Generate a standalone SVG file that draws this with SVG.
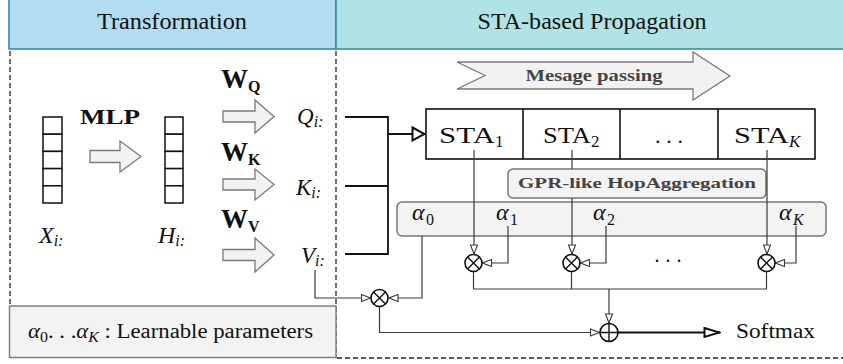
<svg xmlns="http://www.w3.org/2000/svg" width="843" height="364" viewBox="0 0 843 364" font-family="'Liberation Serif', 'Times New Roman', serif">
<defs>
<style>
text{font-family:'Liberation Serif','Times New Roman',serif;fill:#111}
.hdr{font-size:23px}
.b{font-weight:bold}
.it{font-style:italic}
.gray{fill:#444}
.thin{fill:none;stroke:#3a3a3a;stroke-width:1.2}
.thick{fill:none;stroke:#111;stroke-width:1.8}
.dash{fill:none;stroke:#222;stroke-width:1.3;stroke-dasharray:5 3}
.cell{fill:#fff;stroke:#111;stroke-width:1.5}
.fat{fill:#f2f2f2;stroke:#7a7a7a;stroke-width:1.3}
.rbox{fill:#f3f3f3;stroke:#777;stroke-width:1.5}
.op{fill:#fff;stroke:#111;stroke-width:1.6}
.opl{stroke:#111;stroke-width:1.4}
</style>
<marker id="tri" markerUnits="userSpaceOnUse" viewBox="0 0 11 9" refX="10.5" refY="4.5" markerWidth="11" markerHeight="9" orient="auto">
<path d="M1,1 L10,4.5 L1,8 Z" fill="#fff" stroke="#3a3a3a" stroke-width="1.1"/>
</marker>
<marker id="triBig" markerUnits="userSpaceOnUse" viewBox="0 0 15 16" refX="14" refY="8" markerWidth="15" markerHeight="16" orient="auto">
<path d="M1.5,1.5 L13.5,8 L1.5,14.5 Z" fill="#fff" stroke="#111" stroke-width="2"/>
</marker>
<marker id="triOut" markerUnits="userSpaceOnUse" viewBox="0 0 18 12" refX="17" refY="6" markerWidth="18" markerHeight="12" orient="auto">
<path d="M1.5,1.5 L16.5,6 L1.5,10.5 Z" fill="#fff" stroke="#111" stroke-width="2"/>
</marker>
</defs>

<!-- section headers -->
<g id="header-transformation">
<rect x="9" y="-2" width="327" height="51" fill="#b2dcef" stroke="#2f7fb0" stroke-width="1.5"/>
<text class="hdr" x="172" y="29" text-anchor="middle" textLength="150" lengthAdjust="spacingAndGlyphs">Transformation</text>
</g>
<g id="header-propagation">
<rect x="336" y="-2" width="510" height="51" fill="#b0e3e5" stroke="#2a8c90" stroke-width="1.5"/>
<text class="hdr" x="592" y="29" text-anchor="middle" textLength="229" lengthAdjust="spacingAndGlyphs">STA-based Propagation</text>
</g>

<!-- dashed region borders -->
<g id="regions">
<line class="dash" x1="10" y1="51" x2="10" y2="306"/>
<line class="dash" x1="336" y1="51" x2="336" y2="358"/>
<line class="dash" x1="337" y1="358" x2="843" y2="358"/>
</g>

<g id="legend">
<rect x="9.5" y="306" width="326.5" height="51.5" fill="#f3f3f3" stroke="#808080" stroke-width="1.5"/>
<text x="28" y="338" font-size="20" fill="#222" textLength="285" lengthAdjust="spacingAndGlyphs"><tspan class="it">α</tspan><tspan font-size="14" dy="4">0</tspan><tspan dy="-4">. . .</tspan><tspan class="it">α</tspan><tspan class="it" font-size="14" dy="4">K</tspan><tspan dy="-4"> : Learnable parameters</tspan></text>
</g>

<!-- input and hidden vectors -->
<g id="x-vector">
<rect class="cell" x="43" y="117" width="19" height="17.2"/>
<rect class="cell" x="43" y="134.2" width="19" height="17.2"/>
<rect class="cell" x="43" y="151.4" width="19" height="17.2"/>
<rect class="cell" x="43" y="168.6" width="19" height="17.2"/>
<rect class="cell" x="43" y="185.8" width="19" height="17.2"/>
<text class="it" x="39" y="243" font-size="24">X<tspan font-size="16" dy="3">i:</tspan></text>
</g>
<g id="h-vector">
<rect class="cell" x="165" y="117" width="18" height="17.2"/>
<rect class="cell" x="165" y="134.2" width="18" height="17.2"/>
<rect class="cell" x="165" y="151.4" width="18" height="17.2"/>
<rect class="cell" x="165" y="168.6" width="18" height="17.2"/>
<rect class="cell" x="165" y="185.8" width="18" height="17.2"/>
<text class="it" x="158" y="243" font-size="24">H<tspan font-size="16" dy="3">i:</tspan></text>
</g>

<g id="mlp">
<text class="b" x="80" y="124" font-size="22" textLength="60" lengthAdjust="spacingAndGlyphs">MLP</text>
<polygon class="fat" points="90,150.5 120,150.5 120,141 141,156.5 120,172 120,162.5 90,162.5"/>
</g>

<g id="w-q">
<text class="b" x="221" y="88" font-size="27">W<tspan font-size="16" dy="4">Q</tspan></text>
<polygon class="fat" points="223,111 255,111 255,100 274,116.5 255,133 255,122 223,122"/>
<text class="it" x="297" y="124" font-size="23">Q<tspan font-size="16" dy="3">i:</tspan></text>
</g>
<g id="w-k">
<text class="b" x="221" y="161" font-size="27">W<tspan font-size="16" dy="4">K</tspan></text>
<polygon class="fat" points="223,179 255,179 255,169 274,184.5 255,200 255,190 223,190"/>
<text class="it" x="296" y="195" font-size="23">K<tspan font-size="16" dy="3">i:</tspan></text>
</g>
<g id="w-v">
<text class="b" x="221" y="228" font-size="27">W<tspan font-size="16" dy="4">V</tspan></text>
<polygon class="fat" points="223,249.5 255,249.5 255,238 274,255 255,272 255,260.5 223,260.5"/>
<text class="it" x="301" y="263" font-size="23">V<tspan font-size="16" dy="3">i:</tspan></text>
</g>

<g id="message-passing">
<polygon class="fat" points="457,62 693,62 693,52 730,76 693,100 693,89 457,89 485,75.5"/>
<text class="b gray" x="594" y="81" font-size="16" text-anchor="middle" textLength="137" lengthAdjust="spacingAndGlyphs">Mesage passing</text>
</g>

<g id="sta-blocks">
<rect x="426" y="109" width="389" height="50" fill="#fff" stroke="#111" stroke-width="1.6"/>
<line x1="523" y1="109" x2="523" y2="159" stroke="#111" stroke-width="1.6"/>
<line x1="620" y1="109" x2="620" y2="159" stroke="#111" stroke-width="1.6"/>
<line x1="718" y1="109" x2="718" y2="159" stroke="#111" stroke-width="1.6"/>
<text x="439" y="143" font-size="24" textLength="56" lengthAdjust="spacingAndGlyphs">STA</text>
<text x="495" y="147" font-size="17">1</text>
<text x="543" y="143" font-size="24" textLength="48" lengthAdjust="spacingAndGlyphs">STA</text>
<text x="591" y="147" font-size="17">2</text>
<text x="669" y="143" font-size="22" text-anchor="middle" textLength="28" lengthAdjust="spacing">. . .</text>
<text x="734" y="143" font-size="24" textLength="55" lengthAdjust="spacingAndGlyphs">STA</text>
<text class="it" x="789" y="147" font-size="17">K</text>
</g>

<g id="hop-aggregation">
<rect class="rbox" x="508" y="169" width="258" height="29" rx="5"/>
<text class="b gray" x="637" y="188" font-size="15" text-anchor="middle" textLength="238" lengthAdjust="spacingAndGlyphs">GPR-like HopAggregation</text>
</g>

<g id="alphas">
<rect class="rbox" x="397" y="202" width="429" height="34" rx="5"/>
<text class="it" x="412" y="220" font-size="24">α</text><text x="426" y="225" font-size="16">0</text>
<text class="it" x="496" y="220" font-size="24">α</text><text x="510" y="225" font-size="16">1</text>
<text class="it" x="593" y="220" font-size="24">α</text><text x="607" y="225" font-size="16">2</text>
<text class="it" x="779" y="220" font-size="24">α</text><text class="it" x="793" y="225" font-size="16">K</text>
</g>

<!-- connectors -->
<g id="connectors">
<path class="thick" d="M345,117 H388 M345,186 H388 M345,254 H388 M388,116 V255"/>
<path class="thick" d="M388,134 H425" marker-end="url(#triBig)"/>

<path class="thin" d="M474,150 V254.5" marker-end="url(#tri)"/>
<path class="thin" d="M572,150 V169 M572,198 V254.5" marker-end="url(#tri)"/>
<path class="thin" d="M767,150 V254.5" marker-end="url(#tri)"/>

<path class="thin" d="M508,226 V263 H482" marker-end="url(#tri)"/>
<path class="thin" d="M606,226 V263 H580" marker-end="url(#tri)"/>
<path class="thin" d="M796,226 V263 H775" marker-end="url(#tri)"/>

<path class="thin" d="M473.5,271.5 V289 H766.5 V271.5 M571.5,271.5 V289"/>
<path class="thin" d="M609,289 V323.5" marker-end="url(#tri)"/>

<path class="thin" d="M315,270 V298 H371" marker-end="url(#tri)"/>
<path class="thin" d="M422,236 V298 H388.5" marker-end="url(#tri)"/>
<path class="thin" d="M379.5,306.5 V332.5 H600" marker-end="url(#tri)"/>
<path class="thick" d="M618,332.5 H720" marker-end="url(#triOut)"/>
</g>

<g id="mult-1">
<circle class="op" cx="473.5" cy="263" r="8.5"/>
<path class="opl" d="M467.5,257 L479.5,269 M479.5,257 L467.5,269"/>
</g>
<g id="mult-2">
<circle class="op" cx="571.5" cy="263" r="8.5"/>
<path class="opl" d="M565.5,257 L577.5,269 M577.5,257 L565.5,269"/>
</g>
<text x="668" y="262" font-size="20" text-anchor="middle" textLength="27" lengthAdjust="spacing">. . .</text>
<g id="mult-k">
<circle class="op" cx="766.5" cy="263" r="8.5"/>
<path class="opl" d="M760.5,257 L772.5,269 M772.5,257 L760.5,269"/>
</g>
<g id="mult-0">
<circle class="op" cx="379.5" cy="298" r="8.5"/>
<path class="opl" d="M373.5,292 L385.5,304 M385.5,292 L373.5,304"/>
</g>
<g id="sum">
<circle class="op" cx="609" cy="332.5" r="9"/>
<path class="opl" d="M600,332.5 H618 M609,323.5 V341.5"/>
</g>
<g id="softmax">
<text x="736" y="338" font-size="21" textLength="79" lengthAdjust="spacingAndGlyphs">Softmax</text>
</g>
</svg>
